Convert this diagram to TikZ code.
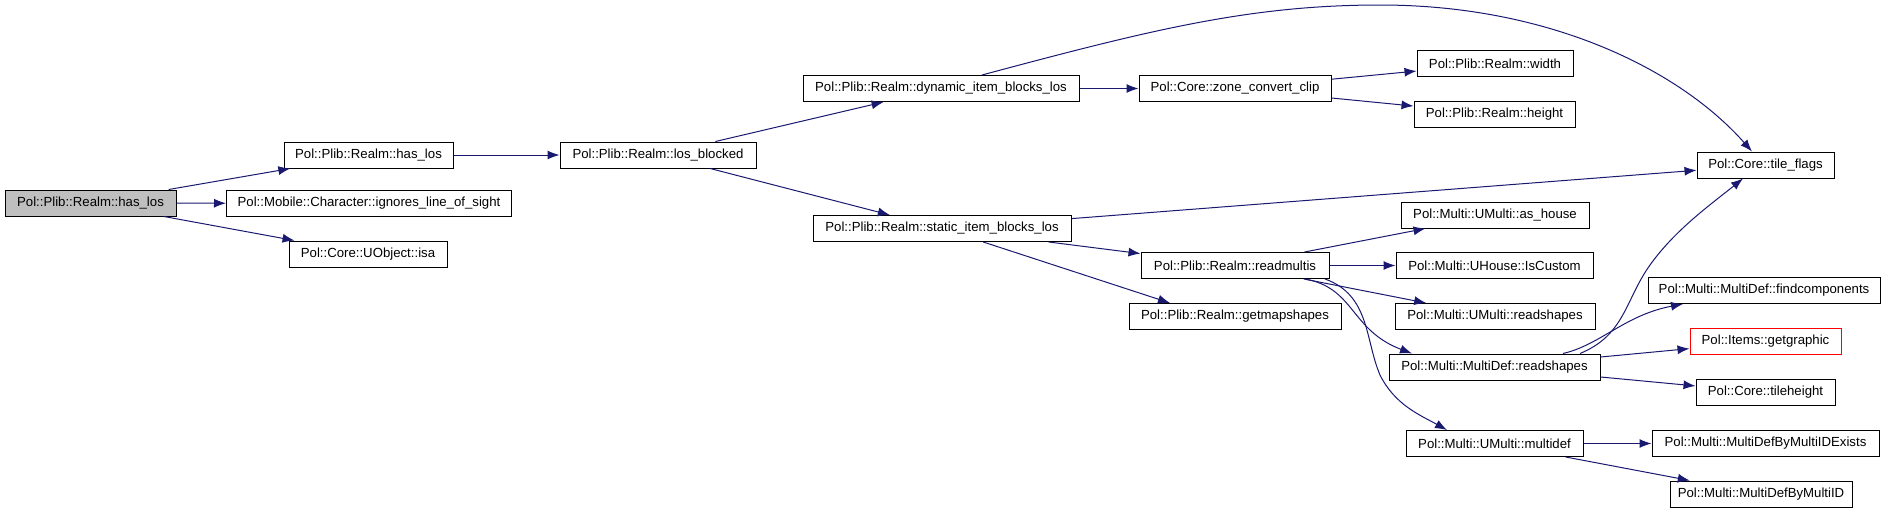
\documentclass[tikz,border=0pt]{standalone}
\usepackage{fontspec}
\setmainfont{Liberation Sans}
\usetikzlibrary{arrows.meta}
\tikzset{>={Latex[width=9pt,length=12pt]}}
\definecolor{callblue}{HTML}{191970}
\definecolor{rootgray}{HTML}{BFBFBF}
\tikzset{
  fnbox/.style={draw=black, fill=white, line width=1pt, minimum height=26pt,
    minimum width=#1, inner sep=0pt, font=\fontsize{13.2}{15}\selectfont},
  rootbox/.style={fnbox=#1, fill=rootgray},
  redbox/.style={fnbox=#1, draw=red},
  call/.style={->, draw=callblue, line width=1pt},
}

\begin{document}
\begin{tikzpicture}[x=1pt,y=-1pt]

  \useasboundingbox (0,0) rectangle (1888,512);

  \node[rootbox=171pt] (root) at (90.5,203) {Pol::Plib::Realm::has\_los};

  \node[fnbox=169pt] (hl)  at (368.5,155) {Pol::Plib::Realm::has\_los};
  \node[fnbox=285pt] (ign) at (369,203.5) {Pol::Mobile::Character::ignores\_line\_of\_sight};
  \node[fnbox=158pt] (isa) at (368,254)   {Pol::Core::UObject::isa};

  \node[fnbox=196pt] (lb)  at (658,155)   {Pol::Plib::Realm::los\_blocked};

  \node[fnbox=276pt] (dyn) at (941,88.5)  {Pol::Plib::Realm::dynamic\_item\_blocks\_los};
  \node[fnbox=258pt] (sib) at (942,228.5) {Pol::Plib::Realm::static\_item\_blocks\_los};

  \node[fnbox=192pt] (zcc) at (1235,88.5)  {Pol::Core::zone\_convert\_clip};
  \node[fnbox=188pt] (rm)  at (1235,265.5) {Pol::Plib::Realm::readmultis};
  \node[fnbox=212pt] (gms) at (1235,316.5) {Pol::Plib::Realm::getmapshapes};

  \node[fnbox=156pt] (wd)  at (1495,63.5)   {Pol::Plib::Realm::width};
  \node[fnbox=161pt] (ht)  at (1494.5,114)  {Pol::Plib::Realm::height};
  \node[fnbox=188pt] (ah)  at (1495,215)    {Pol::Multi::UMulti::as\_house};
  \node[fnbox=197pt] (ic)  at (1494.5,265.5) {Pol::Multi::UHouse::IsCustom};
  \node[fnbox=200pt] (urs) at (1495,316.5)  {Pol::Multi::UMulti::readshapes};
  \node[fnbox=211pt] (mrs) at (1494.5,367)  {Pol::Multi::MultiDef::readshapes};
  \node[fnbox=177pt] (md)  at (1494.5,443.5) {Pol::Multi::UMulti::multidef};

  \node[fnbox=137pt] (tf)  at (1765.5,165)   {Pol::Core::tile\_flags};
  \node[fnbox=232pt] (fc)  at (1764,290.5)   {Pol::Multi::MultiDef::findcomponents};
  \node[redbox=151pt] (gg) at (1765.5,341.5) {Pol::Items::getgraphic};
  \node[fnbox=139pt] (th)  at (1765.5,392.5) {Pol::Core::tileheight};
  \node[fnbox=227pt] (mdx) at (1765.5,443.5) {Pol::Multi::MultiDefByMultiIDExists};
  \node[fnbox=182pt] (mdi) at (1761,494)     {Pol::Multi::MultiDefByMultiID};

  % calls
  \draw[call] (root) -- (hl);
  \draw[call] (root) -- (ign);
  \draw[call] (root) -- (isa);
  \draw[call] (hl) -- (lb);
  \draw[call] (lb) -- (dyn);
  \draw[call] (lb) -- (sib);

  \draw[call] (dyn) -- (zcc);
  \draw[call] ([xshift=41pt]dyn.north) .. controls (1150,30) and (1250,5) .. (1380,5)
    .. controls (1550,5) and (1680,70) .. ([xshift=-13.5pt]tf.north);
  \draw[call] (zcc) -- (wd);
  \draw[call] (zcc) -- (ht);

  \draw[call] (sib) -- (tf);
  \draw[call] (sib) -- (rm);
  \draw[call] (sib) -- ([xshift=-65pt]gms.north);

  \draw[call] (rm) -- (ah);
  \draw[call] (rm) -- (ic);
  \draw[call] (rm) -- (urs);
  \draw[call] ([xshift=70pt]rm.south) .. controls (1355,288) and (1350,330)
    .. ([xshift=-82.5pt]mrs.north);
  \draw[call] ([xshift=90pt]rm.south) .. controls (1370,295) and (1365,340) .. (1380,375)
    .. controls (1395,405) and (1420,415) .. ([xshift=-47.5pt]md.north);

  \draw[call] ([xshift=68.5pt]mrs.north) .. controls (1600,345) and (1625,315)
    .. ([xshift=-81pt]fc.south);
  \draw[call] ([xshift=85.5pt]mrs.north) .. controls (1625,335) and (1625,300) .. (1650,265)
    .. controls (1675,230) and (1710,205) .. ([xshift=-22.5pt]tf.south);
  \draw[call] (mrs) -- (gg);
  \draw[call] (mrs) -- (th);

  \draw[call] (md) -- (mdx);
  \draw[call] (md) -- (mdi);

\end{tikzpicture}
\end{document}
